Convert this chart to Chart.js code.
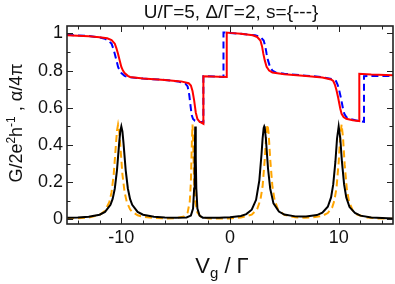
<!DOCTYPE html>
<html>
<head>
<meta charset="utf-8">
<script src="https://cdn.jsdelivr.net/npm/chart.js@4.4.1/dist/chart.umd.min.js"></script>
<style>
  html, body { margin: 0; padding: 0; background: #fff; }
  .chart-container { position: relative; width: 395px; height: 284px; }
</style>
</head>
<body>
<div class="chart-container"><canvas id="myChart"></canvas></div>
<script>
// tick values / labels
var xTicks = [-10, 0, 10];
var xMinorTicks = [-14, -12, -10, -8, -6, -4, -2, 0, 2, 4, 6, 8, 10, 12, 14];
var yTicks = [0, 0.2, 0.4, 0.6, 0.8, 1];
var yTickLabels = ['0', '0.2', '0.4', '0.6', '0.8', '1'];
var yMinorTicks = [0, 0.1, 0.2, 0.3, 0.4, 0.5, 0.6, 0.7, 0.8, 0.9, 1];

// red solid (upper curve)
var redX = [-15, -13, -12, -11.3, -10.9, -10.6, -10.45, -10.3, -10.15, -10, -9.85, -9.7, -9.4, -9.2, -8, -6, -4.5, -3.8, -3.6, -3.45, -3.3, -3.15, -3.0, -2.8, -2.45, -2.45,
  -0.3, -0.3, 0, 1, 2.1, 2.5, 2.8, 2.95, 3.07, 3.2, 3.37, 3.6, 3.9, 5, 7, 8.5, 9.3, 9.5, 9.65, 9.8, 9.95, 10.06, 10.15, 10.27, 10.45, 10.7, 11.3, 11.9, 11.9, 13, 15];
var redY = [0.99, 0.985, 0.98, 0.974, 0.964, 0.945, 0.92, 0.89, 0.855, 0.82, 0.8, 0.787, 0.772, 0.766, 0.757, 0.75, 0.742, 0.732, 0.72, 0.69, 0.64, 0.575, 0.54, 0.525, 0.514, 0.77,
  0.766, 1.005, 1.003, 0.998, 0.99, 0.981, 0.962, 0.93, 0.89, 0.855, 0.82, 0.8, 0.79, 0.781, 0.771, 0.763, 0.752, 0.744, 0.725, 0.694, 0.655, 0.622, 0.595, 0.568, 0.55, 0.541, 0.533, 0.528, 0.783, 0.779, 0.775];

// blue dashed
var blueX = [-15, -13, -12, -11.6, -11.2, -10.9, -10.75, -10.6, -10.45, -10.3, -10.15, -10, -9.7, -9.4, -8, -6, -4.8, -4.1, -3.9, -3.75, -3.65, -3.53, -3.4, -3.22, -2.8, -2.45, -2.45,
  -0.6, -0.6, 0, 1, 2.3, 2.8, 3.1, 3.25, 3.37, 3.5, 3.68, 3.9, 4.2, 5, 7, 8.5, 9.55, 9.75, 9.9, 10.05, 10.2, 10.31, 10.4, 10.52, 10.7, 10.95, 11.55, 12.33, 12.33, 13, 15];
var blueY = [0.993, 0.986, 0.979, 0.973, 0.962, 0.945, 0.92, 0.89, 0.855, 0.82, 0.8, 0.787, 0.772, 0.765, 0.757, 0.75, 0.742, 0.73, 0.715, 0.67, 0.62, 0.562, 0.54, 0.53, 0.525, 0.522, 0.77,
  0.766, 1.005, 1.003, 0.998, 0.99, 0.981, 0.962, 0.93, 0.89, 0.855, 0.82, 0.8, 0.79, 0.783, 0.773, 0.765, 0.752, 0.744, 0.725, 0.694, 0.655, 0.622, 0.595, 0.568, 0.55, 0.541, 0.533, 0.525, 0.77, 0.771, 0.771];

// black solid (peaks)
var blackX = [-15, -14, -13, -12, -11.5, -11, -10.8, -10.6, -10.4, -10.2, -10.1, -10, -9.9, -9.8, -9.6, -9.4, -9.2, -9, -8.5, -8, -7, -6, -5, -4, -3.6, -3.4, -3.3, -3.25, -3.2, -3.15, -3.1, -3, -2.8, -2.5,
  -2, -1, 0, 1, 1.5, 2, 2.4, 2.7, 2.9, 3, 3.1, 3.15, 3.2, 3.3, 3.5, 3.7, 4, 4.5, 5, 6, 6.5, 7, 8, 8.5, 9, 9.3, 9.5, 9.7, 9.85, 10, 10.15, 10.3, 10.5, 10.7, 11, 11.5, 12, 13, 14, 15];
var blackY = [0.008, 0.01, 0.014, 0.025, 0.04, 0.078, 0.11, 0.166, 0.265, 0.41, 0.473, 0.5, 0.473, 0.41, 0.265, 0.166, 0.11, 0.078, 0.04, 0.025, 0.014, 0.01, 0.009, 0.01, 0.02, 0.058, 0.166, 0.33, 0.5, 0.33, 0.166, 0.058, 0.02, 0.009,
  0.008, 0.009, 0.011, 0.018, 0.028, 0.052, 0.105, 0.21, 0.35, 0.435, 0.492, 0.5, 0.492, 0.435, 0.272, 0.165, 0.086, 0.042, 0.026, 0.016, 0.015, 0.016, 0.023, 0.036, 0.068, 0.118, 0.188, 0.31, 0.435, 0.5, 0.435, 0.31, 0.188, 0.118, 0.066, 0.035, 0.02, 0.01, 0.007, 0.005];

// orange dashed
var orangeX = [-15, -14, -13, -12, -11.5, -11.1, -10.9, -10.7, -10.5, -10.4, -10.3, -10.2, -10.1, -9.9, -9.7, -9.5, -9.2, -9, -8.5, -8, -7, -6, -5, -4.2, -3.9, -3.7, -3.6, -3.5, -3.45, -3.4, -3.3, -3.2, -3, -2.7,
  -2, -1, 0, 1, 2, 2.5, 2.8, 3, 3.2, 3.35, 3.45, 3.55, 3.7, 3.9, 4.1, 4.4, 5, 6, 6.8, 7.5, 8.5, 9, 9.4, 9.6, 9.8, 10, 10.15, 10.27, 10.4, 10.55, 10.75, 10.95, 11.3, 11.7, 12.5, 13.5, 15];
var orangeY = [0.004, 0.006, 0.01, 0.024, 0.046, 0.094, 0.146, 0.242, 0.4, 0.477, 0.51, 0.477, 0.4, 0.242, 0.146, 0.094, 0.054, 0.04, 0.022, 0.014, 0.007, 0.005, 0.006, 0.015, 0.036, 0.097, 0.2, 0.434, 0.51, 0.434, 0.2, 0.097, 0.036, 0.015,
  0.005, 0.004, 0.005, 0.01, 0.025, 0.055, 0.105, 0.178, 0.324, 0.467, 0.51, 0.467, 0.324, 0.178, 0.105, 0.055, 0.024, 0.011, 0.009, 0.01, 0.019, 0.034, 0.064, 0.1, 0.168, 0.306, 0.45, 0.51, 0.44, 0.297, 0.164, 0.097, 0.047, 0.026, 0.011, 0.005, 0.003];

function pts(xs, ys) {
  return xs.map(function (x, i) { return { x: x, y: ys[i] }; });
}

var FONT = '"Liberation Sans", Arial, Helvetica, sans-serif';

// frame, inward ticks, title and axis titles
var decorPlugin = {
  id: 'decor',
  afterDraw: function (chart) {
    var c = chart.ctx, a = chart.chartArea;
    var xs = chart.scales.x, ys = chart.scales.y;
    c.save();
    c.strokeStyle = '#222';
    c.lineWidth = 1;
    c.beginPath();
    xMinorTicks.forEach(function (v) {
      var p = Math.round(xs.getPixelForValue(v)) + 0.5;
      var len = xTicks.indexOf(v) >= 0 ? 6 : 3.5;
      c.moveTo(p, a.bottom); c.lineTo(p, a.bottom - len);
      c.moveTo(p, a.top); c.lineTo(p, a.top + len);
    });
    yMinorTicks.forEach(function (v) {
      var p = Math.round(ys.getPixelForValue(v)) + 0.5;
      var len = yTicks.indexOf(v) >= 0 ? 6 : 3.5;
      c.moveTo(a.left, p); c.lineTo(a.left + len, p);
      c.moveTo(a.right, p); c.lineTo(a.right - len, p);
    });
    c.stroke();
    c.lineWidth = 1.6;
    c.strokeRect(a.left, a.top, a.right - a.left, a.bottom - a.top);

    c.fillStyle = '#111';
    // title
    c.font = '19px ' + FONT;
    c.textAlign = 'center';
    c.textBaseline = 'alphabetic';
    c.fillText('U/\u0393=5, \u0394/\u0393=2, s={---}', 231, 18);

    // x title: V_g / Γ
    var big = '22px ' + FONT, small = '15px ' + FONT;
    c.textAlign = 'left';
    c.font = big; var wV = c.measureText('V').width;
    c.font = small; var wg = c.measureText('g').width;
    c.font = big; var wR = c.measureText(' / \u0393').width;
    var x0 = 222 - (wV + wg + wR) / 2, base = 273;
    c.font = big; c.fillText('V', x0, base);
    c.font = small; c.fillText('g', x0 + wV, base + 5);
    c.font = big; c.fillText(' / \u0393', x0 + wV + wg, base);

    // y title: G/2e^2h^-1 , α/4π (rotated)
    var parts = [
      { t: 'G/2e', f: '18px ' + FONT, dy: 0 },
      { t: '2', f: '12px ' + FONT, dy: -7 },
      { t: 'h', f: '18px ' + FONT, dy: 0 },
      { t: '-1', f: '12px ' + FONT, dy: -7 },
      { t: ' , \u03b1/4\u03c0', f: '18px ' + FONT, dy: 0 }
    ];
    var total = 0;
    parts.forEach(function (p) { c.font = p.f; p.w = c.measureText(p.t).width; total += p.w; });
    c.translate(22, 123);
    c.rotate(-Math.PI / 2);
    var px = -total / 2;
    parts.forEach(function (p) { c.font = p.f; c.fillText(p.t, px, p.dy); px += p.w; });
    c.restore();
  }
};

var ctx = document.getElementById('myChart').getContext('2d');
var myChart = new Chart(ctx, {
  type: 'line',
  data: {
    datasets: [
      { label: 'red', data: pts(redX, redY), borderColor: '#ff0000', borderWidth: 2, pointRadius: 0, tension: 0, fill: false },
      { label: 'blue', data: pts(blueX, blueY), borderColor: '#0000ff', borderWidth: 2, borderDash: [7, 4], pointRadius: 0, tension: 0, fill: false },
      { label: 'black', data: pts(blackX, blackY), borderColor: '#000000', borderWidth: 2, pointRadius: 0, tension: 0, fill: false },
      { label: 'orange', data: pts(orangeX, orangeY), borderColor: '#ffa500', borderWidth: 2, borderDash: [7, 4], pointRadius: 0, tension: 0, fill: false }
    ]
  },
  options: {
    responsive: true,
    maintainAspectRatio: false,
    animation: false,
    layout: { padding: { top: 26, right: 2, left: 0, bottom: 0 } },
    plugins: { legend: { display: false }, tooltip: { enabled: false }, title: { display: false } },
    scales: {
      x: {
        type: 'linear', min: -15, max: 15,
        grid: { display: false, drawTicks: false },
        border: { display: false },
        afterBuildTicks: function (s) { s.ticks = xTicks.map(function (v) { return { value: v }; }); },
        afterFit: function (s) { s.height = 60; },
        ticks: { color: '#111', padding: 3, font: { size: 18, family: FONT }, callback: function (v) { return String(v); } }
      },
      y: {
        min: -0.025, max: 1.04,
        grid: { display: false, drawTicks: false },
        border: { display: false },
        afterBuildTicks: function (s) { s.ticks = yTicks.map(function (v) { return { value: v }; }); },
        afterFit: function (s) { s.width = 67; },
        ticks: { color: '#111', padding: 4, font: { size: 18, family: FONT },
          callback: function (v) { var i = yTicks.indexOf(v); return i >= 0 ? yTickLabels[i] : ''; } }
      }
    }
  },
  plugins: [decorPlugin]
});
</script>
</body>
</html>
